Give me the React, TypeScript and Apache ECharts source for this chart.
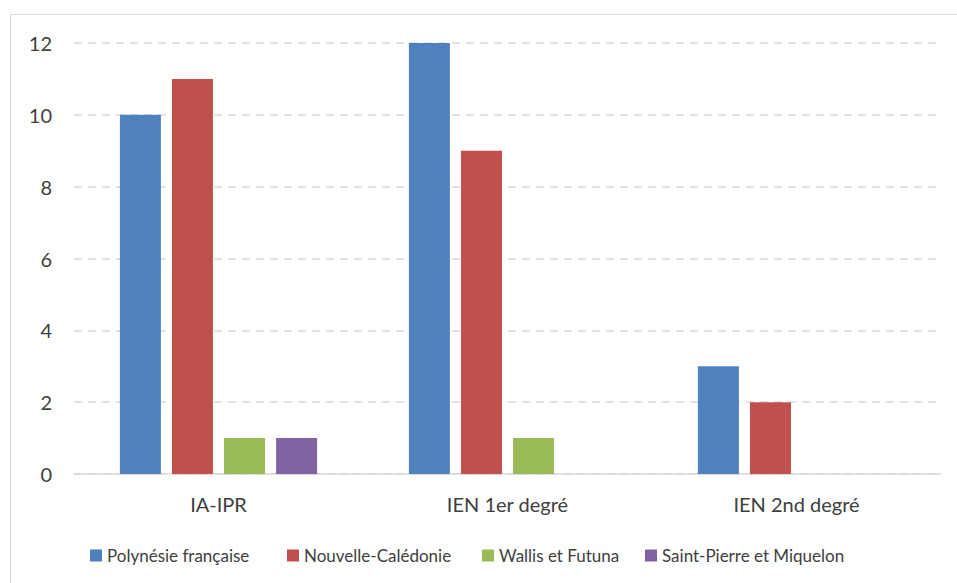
import React, { useEffect, useRef } from "react";
import * as echarts from "echarts";

const categories = ["IA-IPR", "IEN 1er degré", "IEN 2nd degré"];
const seriesNames = [
  "Polynésie française",
  "Nouvelle-Calédonie",
  "Wallis et Futuna",
  "Saint-Pierre et Miquelon",
];
const polynesie = [10, 12, 3];
const caledonie = [11, 9, 2];
const wallis = [1, 1, 0];
const saintPierre = [1, 0, 0];
const colors = ["#4f81bd", "#c0504d", "#9bbb59", "#8064a2"];
const legendLefts = [90, 287, 482, 645];

export default function App() {
  const ref = useRef<HTMLDivElement>(null);
  useEffect(() => {
    if (!ref.current) return;
    const chart = echarts.init(ref.current, undefined, { renderer: "svg" });
    const values = [polynesie, caledonie, wallis, saintPierre];
    const font = "Lato, 'Open Sans', sans-serif";
    chart.setOption({
      animation: false,
      backgroundColor: "#ffffff",
      textStyle: { fontFamily: font },
      graphic: [
        {
          type: "rect",
          shape: { x: 10.5, y: 14.5, width: 960, height: 600 },
          style: { fill: "none", stroke: "#d9d9d9", lineWidth: 1 },
          silent: true,
        },
      ],
      grid: { left: 74, right: 16, top: 43, bottom: 109, containLabel: false },
      legend: seriesNames.map((n, i) => ({
        data: [n],
        left: legendLefts[i],
        top: 547,
        padding: 0,
        itemWidth: 12,
        itemHeight: 12,
        itemGap: 4,
        icon: "rect",
        textStyle: { fontFamily: font, fontSize: 17, color: "#404040", lineHeight: 16 },
      })),
      xAxis: {
        type: "category",
        data: categories,
        axisTick: { show: false },
        axisLine: { lineStyle: { color: "#d9d9d9", width: 1.5 } },
        axisLabel: { fontFamily: font, fontSize: 20, color: "#404040", margin: 20 },
      },
      yAxis: {
        type: "value",
        min: 0,
        max: 12,
        interval: 2,
        axisLine: { show: false },
        axisTick: { show: false },
        axisLabel: { fontFamily: font, fontSize: 20, color: "#404040", margin: 22 },
        splitLine: { lineStyle: { color: "#d9d9d9", type: [8, 6], width: 1.5 } },
      },
      series: seriesNames.map((n, i) => ({
        name: n,
        type: "bar",
        data: values[i],
        barWidth: 41,
        barGap: "27%",
        itemStyle: { color: colors[i] },
      })),
    });
    return () => chart.dispose();
  }, []);
  return (
    <div
      ref={ref}
      style={{ position: "fixed", left: 0, top: 0, width: 957, height: 583 }}
    />
  );
}
